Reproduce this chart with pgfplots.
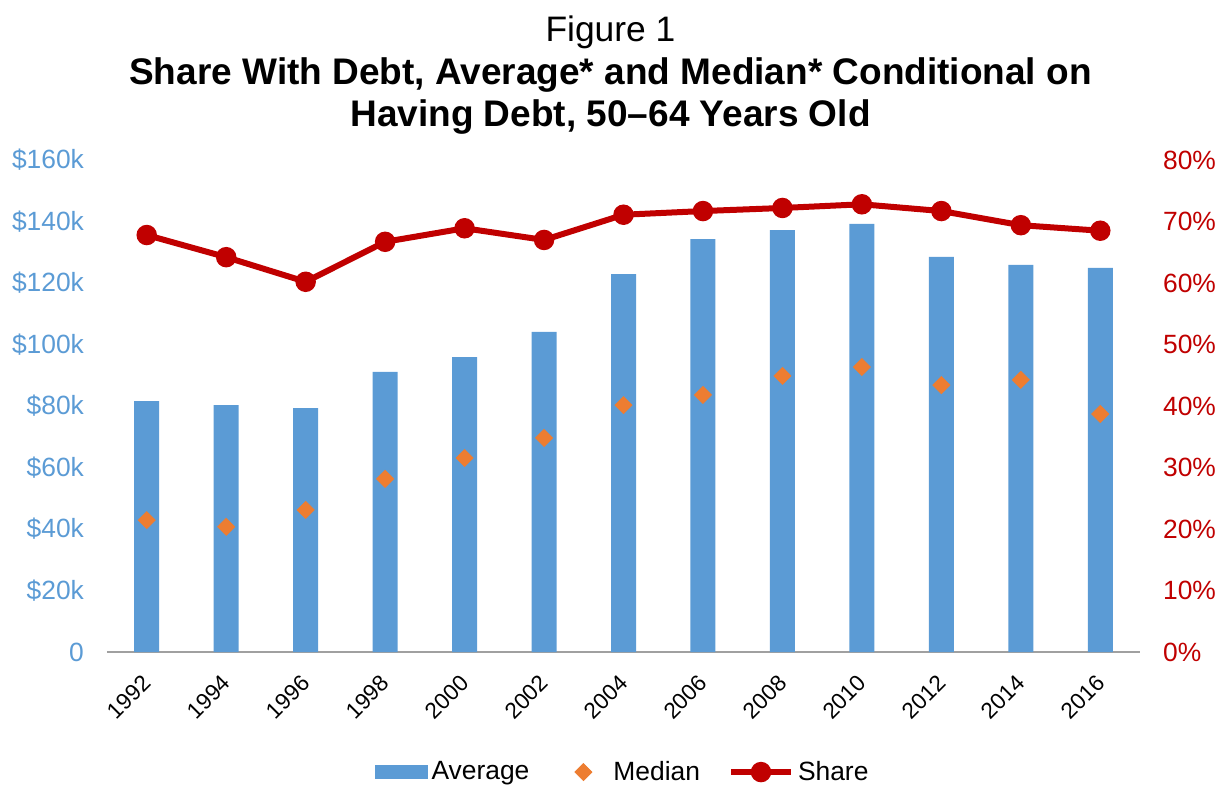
\documentclass[border=0pt]{standalone}
\usepackage{pgfplots}
\pgfplotsset{compat=1.18}
\usepackage{fontspec}
\setmainfont{Liberation Sans}
\definecolor{barblue}{HTML}{5B9BD5}
\definecolor{medorange}{HTML}{ED7D31}
\definecolor{sharered}{HTML}{C00000}
\definecolor{axisgray}{HTML}{A0A0A0}
\newcommand{\tf}{\fontsize{13.2}{15}\selectfont}
\pgfplotsset{
  sharelegend/.style={legend image code/.code={\draw[mark repeat=2,mark phase=2,##1] plot coordinates {(0pt,0pt)(15pt,0pt)(30pt,0pt)};}},
  medlegend/.style={legend image code/.code={\path[draw=none,fill=none] (0pt,-3pt) rectangle (26pt,3pt);\draw[mark repeat=2,mark phase=2,##1] plot coordinates {(0pt,0pt)(13pt,0pt)(26pt,0pt)};}},
  barlegend/.style={legend image code/.code={\fill[barblue] (0pt,-3.5pt) rectangle (26.5pt,3.5pt);}},
  myaxis/.style={
    scale only axis, width=516.5pt, height=246pt,
    xmin=-0.5, xmax=12.5,
    /pgf/number format/assume math mode=true,
    major tick length=0pt,
    tick label style={font=\tf},
  }
}
\begin{document}
\begin{tikzpicture}
\begin{axis}[myaxis,
  name=main,
  ymin=0, ymax=160,
  axis x line*=bottom, axis y line*=left,
  x axis line style={-, draw=axisgray, line width=1pt},
  y axis line style={draw=none},
  xtick={0,...,12},
  xticklabels={1992,1994,1996,1998,2000,2002,2004,2006,2008,2010,2012,2014,2016},
  xticklabel style={xshift=-2.75pt, yshift=-10.5pt, rotate=45, anchor=north east, inner sep=0pt, font=\fontsize{11.3}{13}\selectfont},
  ytick={0,20,...,160},
  yticklabels={0,\$20k,\$40k,\$60k,\$80k,\$100k,\$120k,\$140k,\$160k},
  yticklabel style={text=barblue, xshift=-8pt},
  legend columns=3,
  legend style={at={(0.5,-0.244)}, anchor=center, draw=none, font=\tf,
    nodes={inner xsep=2pt},
    /tikz/every even column/.append style={column sep=12pt}},
]
\addplot[ybar, bar width=12.5pt, fill=barblue, draw=none, bar shift=0pt, barlegend]
  coordinates {(0,81.6) (1,80.3) (2,79.3) (3,91.1) (4,95.9) (5,104.1) (6,122.9) (7,134.3) (8,137.2) (9,139.2) (10,128.5) (11,125.9) (12,124.9)};
\addlegendentry{Average}
\addplot[only marks, mark=square*, mark size=3pt, mark options={rotate=45}, color=medorange, fill=medorange, medlegend]
  coordinates {(0,42.9) (1,40.7) (2,46.2) (3,56.3) (4,63.1) (5,69.6) (6,80.3) (7,83.6) (8,89.8) (9,92.7) (10,86.8) (11,88.5) (12,77.4)};
\addlegendentry{Median}
\addlegendimage{sharered, line width=3pt, mark=*, mark size=3.6pt, sharelegend}
\addlegendentry{Share}
\end{axis}
\begin{axis}[myaxis,
  ymin=0, ymax=80,
  axis x line=none, axis y line*=right,
  y axis line style={draw=none},
  ytick={0,10,...,80},
  yticklabels={0\%,10\%,20\%,30\%,40\%,50\%,60\%,70\%,80\%},
  yticklabel style={text=sharered, xshift=8pt},
]
\addplot[sharered, line width=3pt, mark=*, mark size=3.6pt]
  coordinates {(0,67.8) (1,64.2) (2,60.2) (3,66.7) (4,68.9) (5,67.0) (6,71.1) (7,71.7) (8,72.2) (9,72.8) (10,71.7) (11,69.4) (12,68.5)};
\end{axis}
\node[anchor=base, font=\fontsize{17.7}{21}\selectfont] at ([xshift=-6.5pt,yshift=59pt]main.north) {Figure 1};
\node[anchor=base, font=\fontsize{18.5}{22}\selectfont\bfseries] at ([xshift=-6.5pt,yshift=37.5pt]main.north) {Share With Debt, Average* and Median* Conditional on};
\node[anchor=base, font=\fontsize{18.5}{22}\selectfont\bfseries] at ([xshift=-6.5pt,yshift=16.5pt]main.north) {Having Debt, 50–64 Years Old};
\path ([xshift=-53.5pt,yshift=80pt]main.north west) rectangle ([xshift=44pt,yshift=-68pt]main.south east);
\end{tikzpicture}
\end{document}
